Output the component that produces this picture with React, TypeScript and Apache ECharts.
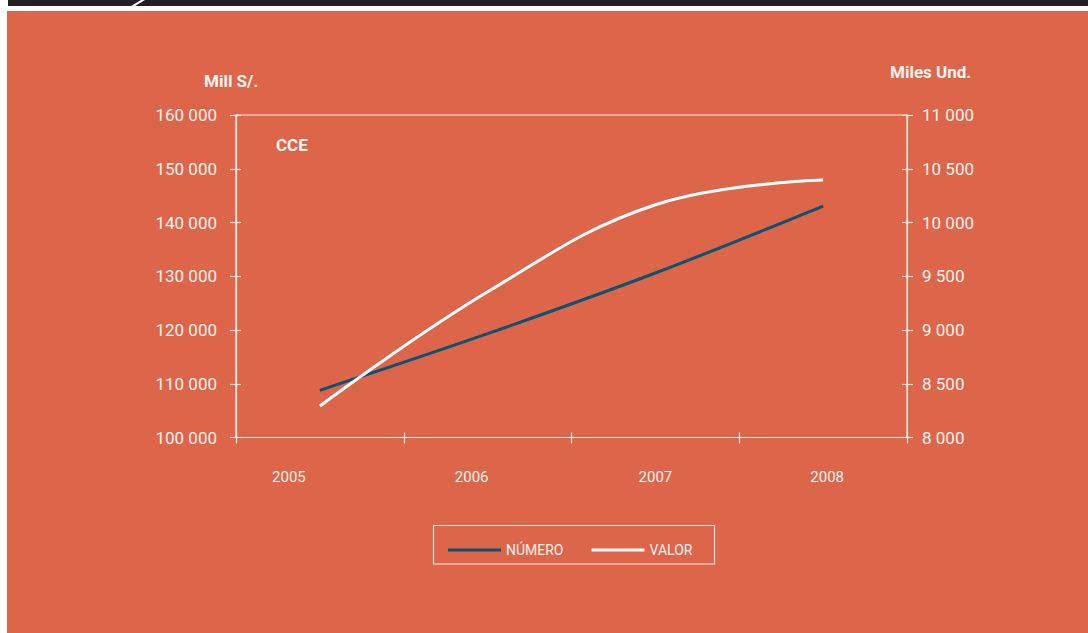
import React, { useEffect, useRef } from "react";
import * as echarts from "echarts";

const years = ["2005", "2006", "2007", "2008"];
const numeroMilesUnd = [8439, 8966, 9530, 10153];
const valorMillSoles = [105860, 127100, 143300, 147900];
const leftTitle = "Mill S/.";
const rightTitle = "Miles Und.";
const panelTitle = "CCE";
const seriesNames = ["NÚMERO", "VALOR"];

const FONT = "Roboto, 'Liberation Sans', sans-serif";
const BG = "#DD654A";
const TXT = "#FFF4EF";
const AX = "#FCE9E3";
const BLUE = "#0C5273";

export default function App() {
  const ref = useRef<HTMLDivElement>(null);
  useEffect(() => {
    if (!ref.current) return;
    const chart = echarts.init(ref.current, null, { renderer: "svg" });
    const yBase = (pos: string, min: number, max: number, interval: number, withLabels: boolean, inside: boolean, margin: number) => ({
      type: "value",
      position: pos,
      min,
      max,
      interval,
      splitLine: { show: false },
      axisLine: { show: withLabels, lineStyle: { color: AX, width: 1.2 } },
      axisTick: { show: true, inside, length: inside ? 5 : 6, lineStyle: { color: AX, width: 1.2 } },
      axisLabel: {
        show: withLabels,
        margin,
        color: TXT,
        fontFamily: FONT,
        fontSize: 17,
        formatter: (v: number) => String(v).replace(/\B(?=(\d{3})+(?!\d))/g, " "),
      },
    });
    chart.setOption({
      animation: false,
      backgroundColor: "#ffffff",
      graphic: [
        { type: "rect", shape: { x: 7, y: 11, width: 1081, height: 622 }, style: { fill: BG }, z: -10 },
        { type: "polygon", shape: { points: [[8, 0], [141, 0], [131, 6], [8, 6]] }, style: { fill: "#231F20" } },
        { type: "polygon", shape: { points: [[145, 0], [1088, 0], [1088, 6], [135, 6]] }, style: { fill: "#231F20" } },
        { type: "text", x: 204, y: 81, style: { text: leftTitle, fill: TXT, font: `bold 17px ${FONT}`, verticalAlign: "middle" } },
        { type: "text", x: 890, y: 72, style: { text: rightTitle, fill: TXT, font: `bold 17px ${FONT}`, verticalAlign: "middle" } },
        { type: "text", x: 276, y: 145, style: { text: panelTitle, fill: TXT, font: `bold 17px ${FONT}`, verticalAlign: "middle" } },
        { type: "rect", shape: { x: 433.5, y: 525.5, width: 281, height: 38.5 }, style: { fill: "none", stroke: AX, lineWidth: 1.2 } },
      ],
      grid: { left: 236, right: 181, top: 115, bottom: 195.5, show: true, borderColor: AX, borderWidth: 1.2, backgroundColor: "transparent" },
      legend: {
        left: 443,
        top: 538,
        icon: "rect",
        itemWidth: 53,
        itemHeight: 3,
        itemGap: 28,
        data: seriesNames,
        textStyle: { color: TXT, fontFamily: FONT, fontSize: 14, width: 58 },
      },
      xAxis: [
        {
          type: "category",
          data: years,
          position: "bottom",
          axisLine: { lineStyle: { color: AX, width: 1.2 } },
          axisTick: { show: true, length: 6, lineStyle: { color: AX, width: 1.2 } },
          axisLabel: {
            margin: 32,
            color: TXT,
            fontFamily: FONT,
            fontSize: 15,
            formatter: (v: string) => `{y${v}|${v}}`,
            rich: {
              y2005: { padding: [0, 62, 0, 0], color: TXT, fontFamily: FONT, fontSize: 15 },
              y2006: { padding: [0, 32, 0, 0], color: TXT, fontFamily: FONT, fontSize: 15 },
              y2007: { color: TXT, fontFamily: FONT, fontSize: 15 },
              y2008: { padding: [0, 0, 0, 8], color: TXT, fontFamily: FONT, fontSize: 15 },
            },
          },
        },
        {
          type: "category",
          data: years,
          position: "bottom",
          axisLine: { show: false },
          axisTick: { show: true, inside: true, length: 5, lineStyle: { color: AX, width: 1.2 } },
          axisLabel: { show: false },
        },
      ],
      yAxis: [
        yBase("left", 100000, 160000, 10000, true, false, 19),
        yBase("right", 8000, 11000, 500, true, false, 15),
        yBase("left", 100000, 160000, 10000, false, true, 19),
        yBase("right", 8000, 11000, 500, false, true, 15),
      ],
      series: [
        {
          name: seriesNames[0],
          type: "line",
          yAxisIndex: 1,
          data: numeroMilesUnd,
          smooth: 0.3,
          showSymbol: false,
          color: BLUE,
          lineStyle: { color: BLUE, width: 3 },
        },
        {
          name: seriesNames[1],
          type: "line",
          yAxisIndex: 0,
          data: valorMillSoles,
          smooth: 0.4,
          showSymbol: false,
          color: "#ffffff",
          lineStyle: { color: "#ffffff", width: 3 },
        },
      ],
    });
    return () => chart.dispose();
  }, []);
  return <div ref={ref} style={{ position: "absolute", left: 0, top: 0, width: 1088, height: 633 }} />;
}
